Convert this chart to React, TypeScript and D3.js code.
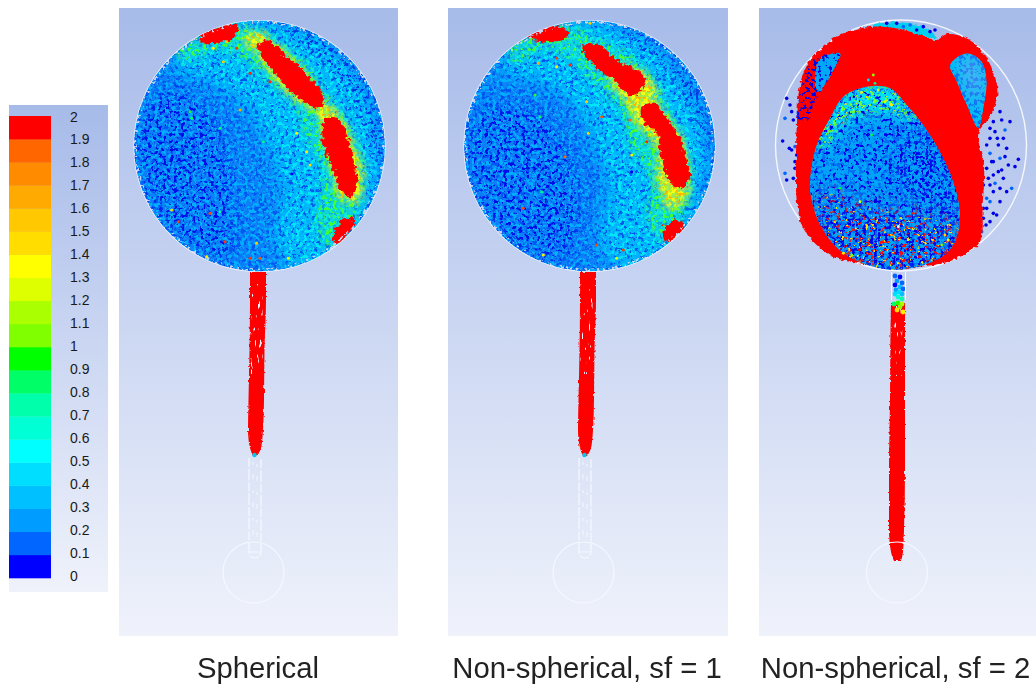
import React from "react";
import * as d3 from "d3";

type P = [number, number];

// legend
const legendColors = ["#0000ff","#0066ff","#009cff","#00c0ff","#00deff","#00ffff","#00ffd5","#00ffaa","#00ff66","#00ff00","#80ff00","#aaff00","#ddff00","#ffff00","#ffdd00","#ffc800","#ffaa00","#ff8c00","#ff6600","#ff0000"];
const legendTicks = ["0","0.1","0.2","0.3","0.4","0.5","0.6","0.7","0.8","0.9","1","1.1","1.2","1.3","1.4","1.5","1.6","1.7","1.8","1.9","2"];
const panelLabels = ["Spherical", "Non-spherical, sf = 1", "Non-spherical, sf = 2"];

// panel 1 regions, in reading units (3 per px of the crop)
const p1Cyan: P[] = [[350,60],[420,50],[500,70],[600,110],[710,230],[770,400],[760,560],[650,740],[520,790],[470,700],[490,560],[440,400],[380,300],[300,240],[160,180],[220,110]];
const p1Deep: P[] = [[45,420],[100,280],[200,260],[300,370],[340,530],[340,680],[330,770],[220,730],[110,620]];
const p1Ring: P[] = [[490,55],[600,90],[720,190],[795,390],[790,470],[750,440],[700,300],[620,190],[520,110]];
const p1Green: P[] = [[170,140],[250,85],[350,60],[400,70],[470,110],[560,180],[620,270],[690,370],[730,490],[720,590],[690,660],[640,730],[590,670],[600,580],[610,500],[560,400],[520,290],[450,230],[370,160],[290,130],[200,170]];
const p1Yellow: P[] = [[370,95],[420,85],[460,120],[540,190],[610,290],[660,340],[700,430],[725,505],[710,585],[665,580],[640,500],[615,400],[590,320],[525,280],[460,210],[410,140]];
const p1Red: P[][] = [
  [[418,125],[445,112],[485,150],[535,190],[580,238],[608,285],[590,302],[548,280],[505,245],[465,198],[428,152]],
  [[622,345],[648,343],[682,408],[694,470],[708,530],[692,568],[662,548],[646,492],[626,452],[612,390]],
  [[243,90],[290,68],[348,62],[342,92],[290,108],[250,108]],
  [[670,648],[698,648],[682,682],[655,708],[645,695]],
];
const p1Stray: [number, number, string][] = [[350,130,"#ff3300"],[310,170,"#ffcc00"],[390,205,"#ff2200"],[450,230,"#ff2200"],[360,315,"#ffaa00"],[215,340,"#00ff66"],[300,370,"#00ff88"],[210,320,"#22ee44"],[530,385,"#ffee00"],[570,480,"#ffdd00"],[515,507,"#0000ff"],[155,615,"#ffdd00"],[270,625,"#ff4400"],[300,620,"#00ffaa"],[260,755,"#ffee00"],[390,760,"#ff3300"],[420,760,"#ff5500"],[410,715,"#ffcc00"],[505,760,"#ddff00"],[315,710,"#ff3300"],[175,650,"#ff4400"],[320,110,"#ffcc00"],[280,130,"#ffee00"],[605,405,"#ff0000"],[560,440,"#ffee00"],[430,410,"#00ff88"]];

// panel 2 regions
const p2Cyan: P[] = [[340,60],[420,50],[500,75],[600,120],[700,240],[760,400],[750,560],[650,740],[520,790],[450,700],[480,560],[430,400],[380,300],[280,230],[150,190],[220,110]];
const p2Deep: P[] = [[45,440],[90,320],[200,300],[320,370],[380,520],[390,660],[340,770],[220,740],[110,630]];
const p2Ring: P[] = [[520,70],[620,100],[740,230],[790,390],[780,440],[740,360],[690,270],[620,170],[540,120]];
const p2Green: P[] = [[170,140],[250,85],[350,65],[420,90],[510,130],[600,210],[670,340],[720,470],[715,590],[690,640],[640,710],[590,630],[610,540],[540,420],[510,310],[440,240],[360,160],[290,130],[200,170]];
const p2Yellow: P[] = [[480,185],[560,195],[610,240],[620,300],[690,400],[712,500],[705,580],[660,610],[625,510],[625,430],[560,350],[530,290],[490,240]];
const p2Red: P[][] = [
  [[403,125],[450,128],[500,172],[572,208],[578,240],[545,268],[498,222],[448,188],[408,147]],
  [[578,315],[610,298],[642,340],[684,400],[698,440],[714,520],[685,548],[652,502],[636,442],[626,382],[590,352]],
  [[243,90],[300,66],[352,85],[310,107],[258,102]],
  [[643,682],[675,648],[698,660],[672,697],[650,703]],
];
const p2Stray: [number, number, string][] = [[320,160,"#ff4400"],[360,180,"#ff2200"],[265,175,"#ffaa00"],[320,185,"#ffee00"],[270,335,"#00ff66"],[255,270,"#33ff33"],[410,290,"#ffcc00"],[455,335,"#ff5500"],[540,345,"#ff6600"],[590,410,"#ff2200"],[545,450,"#ffee00"],[345,455,"#ff6600"],[415,385,"#ffcc00"],[275,560,"#00ff88"],[220,610,"#ff4400"],[280,750,"#ffee00"],[520,735,"#ff3300"],[440,720,"#ff4400"],[500,760,"#ddff00"],[420,55,"#ffcc00"],[545,500,"#0000ff"]];

// panel 3 regions
const p3Outer: P[] = [[112,330],[118,250],[140,180],[190,125],[260,80],[340,65],[420,72],[490,92],[530,105],[560,88],[620,100],[670,145],[705,215],[712,270],[690,335],[655,385],[672,480],[668,600],[660,710],[610,750],[560,772],[480,785],[400,790],[300,775],[230,760],[170,720],[130,670],[112,600],[108,450]];
const p3Dome: P[] = [[170,420],[210,340],[250,275],[320,245],[390,250],[440,300],[490,360],[540,440],[580,530],[600,620],[590,700],[560,745],[500,778],[400,795],[300,772],[230,728],[180,660],[150,560],[155,480]];
const p3LeftPatch: P[] = [[125,240],[155,165],[240,145],[215,210],[165,290],[145,350],[112,350],[115,285]];
const p3LeftCore: P[] = [[185,160],[240,145],[215,205],[175,260],[165,215]];
const p3RightPatch: P[] = [[570,180],[620,145],[665,170],[680,230],[672,300],[655,370],[620,300],[590,230]];
const p3DomeCap: P[] = [[170,420],[250,275],[320,245],[390,250],[440,300],[470,350],[400,320],[320,320],[250,350],[190,430]];
const p3DomeDeep: P[] = [[440,390],[530,420],[585,540],[600,640],[510,620],[440,560],[390,480]];
const p3DomeLow: P[] = [[180,560],[300,610],[480,630],[600,670],[540,790],[400,810],[280,790],[200,720]];
const p3Out: P[] = [[80,280],[90,300],[75,340],[100,345],[95,320],[130,350],[68,408],[105,425],[95,435],[88,430],[110,450],[105,470],[75,505],[80,525],[100,520],[115,500],[105,490],[118,375],[135,355],[720,320],[750,350],[700,350],[735,375],[705,380],[690,400],[730,400],[715,420],[690,445],[740,430],[775,463],[765,485],[745,480],[720,460],[700,470],[680,490],[700,510],[730,520],[755,550],[740,560],[720,550],[700,560],[690,540],[680,580],[720,590],[700,625],[690,650],[670,640],[665,680],[710,630],[680,610],[380,55],[410,55],[450,60],[490,65],[510,80],[525,75],[470,75],[430,65],[680,420],[695,470],[715,500],[735,455],[690,590],[670,610],[712,400],[685,520],[725,495],[705,535],[678,660],[725,345],[690,370],[670,540]];
const p3Stray: [number, number, string][] = [[340,210,"#88ff00"],[325,225,"#00ddff"],[345,235,"#00ff88"],[300,590,"#ddff00"],[335,390,"#00ff44"],[240,550,"#00ff44"],[460,625,"#ff2200"],[565,705,"#ffee00"],[555,690,"#ffdd00"],[545,720,"#88ff00"],[250,745,"#ffee00"],[275,750,"#88ff00"],[415,665,"#ffffff"],[375,290,"#ddff00"],[395,300,"#ffee00"],[305,262,"#ffee00"],[355,255,"#ddff00"]];
const p3TopRim: P[] = [[340,60],[420,52],[490,65],[530,100],[490,92],[420,72],[340,65]];

// rods: [y, left, right] in screen-sized reading of each tube
const rodY = [272, 300, 350, 400, 430, 448, 456];
const rodLeft = [250, 250, 249.5, 248.5, 248, 250, 253];
const rodRight = [266, 266, 264.5, 264, 263, 261, 257];
const rod3Y = [303, 330, 400, 470, 530, 552, 561];
const rod3Left = [891, 890.5, 890, 889, 889, 891, 894];
const rod3Right = [905, 905, 905, 905, 904, 903, 901];
const rod3Top: [number, number, string][] = [[895,276,"#0066ff"],[900,277,"#0000ff"],[897,281,"#009cff"],[902,283,"#0066ff"],[895,285,"#0000ff"],[900,287,"#00c0ff"],[903,289,"#0066ff"],[896,290,"#00a0ff"],[899,292,"#00deff"],[902,294,"#00c0ff"],[895,294,"#00deff"],[898,297,"#00ffd5"],[902,299,"#00ffaa"],[894,304,"#00ff66"],[898,303,"#22ff00"],[902,304,"#aaff00"],[900,307,"#88ff00"],[897,310,"#ffdd00"],[903,312,"#ffee00"]];

const W = 1036, H = 684;
const panels = [
  { x0: 119, x1: 398, ox: 120, cx: 259.5, tube: 254.5, cyan: p1Cyan, deep: p1Deep, ring: p1Ring, green: p1Green, yellow: p1Yellow, red: p1Red, stray: p1Stray },
  { x0: 448, x1: 728, ox: 450, cx: 589.5, tube: 584.5, cyan: p2Cyan, deep: p2Deep, ring: p2Ring, green: p2Green, yellow: p2Yellow, red: p2Red, stray: p2Stray },
];
const yR = d3.scaleLinear([0, 840], [5, 285]);
const lineP = d3.line<P>().curve(d3.curveCatmullRomClosed.alpha(0.5));

function Speck({ id, color, freq, t, seed, blur }: { id: string; color: string; freq: string; t: number; seed: number; blur: number }) {
  const c = d3.rgb(color);
  const k = 14;
  return (
    <filter id={id} x="-10%" y="-10%" width="120%" height="120%" colorInterpolationFilters="sRGB">
      <feTurbulence type="fractalNoise" baseFrequency={freq} numOctaves={2} seed={seed} result="n" />
      <feColorMatrix in="n" type="matrix" values={`0 0 0 0 ${c.r / 255} 0 0 0 0 ${c.g / 255} 0 0 0 0 ${c.b / 255} ${k} 0 0 0 ${-k * t}`} result="c" />
      <feGaussianBlur in="SourceAlpha" stdDeviation={blur} result="a" />
      <feComposite in="c" in2="a" operator="in" />
    </filter>
  );
}

function Rough({ id, scale, blur, seed, freq = "0.16" }: { id: string; scale: number; blur: number; seed: number; freq?: string }) {
  return (
    <filter id={id} x="-15%" y="-15%" width="130%" height="130%" colorInterpolationFilters="sRGB">
      <feTurbulence type="fractalNoise" baseFrequency={freq} numOctaves={2} seed={seed} result="n" />
      <feGaussianBlur in="SourceGraphic" stdDeviation={blur} result="b" />
      <feDisplacementMap in="b" in2="n" scale={scale} xChannelSelector="R" yChannelSelector="G" />
    </filter>
  );
}

export default function App() {
  const legendBand = d3.scaleLinear([0, 20], [578, 116]);
  const legendLab = d3.scaleLinear([0, 20], [576, 116.5]);

  const rodArea = (ys: number[], l: number[], r: number[], dx: number) =>
    d3.area<number>().x0((_, i) => l[i] + dx).x1((_, i) => r[i] + dx).y((d) => d).curve(d3.curveMonotoneY)(ys) || "";

  const discLayers = (p: (typeof panels)[number], i: number) => {
    const x = d3.scaleLinear([0, 840], [p.ox, p.ox + 280]);
    const path = (pts: P[]) => lineP(pts.map(([a, b]) => [x(a), yR(b)] as P)) || "";
    const discBox = `M${p.cx - 125.5},146a125.5,125.5 0 1,0 251,0a125.5,125.5 0 1,0 -251,0Z`;
    return (
      <g key={i}>
        <circle cx={p.cx} cy={146} r={125.5} fill="none" stroke="#fff" strokeOpacity={0.8} strokeWidth={1.2} />
        <g clipPath={`url(#clip${i})`}>
          <g filter="url(#soft)">
            <path d={discBox} fill="#0a80f8" />
            <path d={path(p.cyan)} fill="#00bcfa" filter="url(#bl8)" />
            <path d={discBox} filter={`url(#spBlueA${i})`} />
            <path d={discBox} filter={`url(#spCyanA${i})`} />
            <path d={path(p.deep)} filter={`url(#spDeep${i})`} />
            <path d={path(p.ring)} filter={`url(#spRing${i})`} />
            <path d={path(p.cyan)} filter={`url(#spCyanB${i})`} />
            <path d={path(p.green)} fill="#18eec0" filter="url(#r10)" opacity={0.5} />
            <path d={path(p.green)} filter={`url(#spGreen${i})`} />
            <path d={path(p.yellow)} fill="#d8f020" filter="url(#r10)" opacity={0.75} />
            <path d={path(p.yellow)} filter={`url(#spYellow${i})`} />
            <path d={path(p.yellow)} filter={`url(#spOrange${i})`} />
            {p.red.map((r, j) => (
              <path key={j} d={path(r)} fill="#ff0000" stroke="#ff0000" strokeWidth={3.5} filter="url(#r6)" />
            ))}
            {p.stray.map(([a, b, c], j) => (
              <circle key={j} cx={x(a)} cy={yR(b)} r={1.5} fill={c} />
            ))}
            <path d={discBox} fill="none" stroke="#000" strokeWidth={6} filter={`url(#spEdge${i})`} />
          </g>
        </g>
      </g>
    );
  };

  const x3 = d3.scaleLinear([0, 828], [760, 1036]);
  const y3 = d3.scaleLinear([0, 900], [5, 305]);
  const path3 = (pts: P[]) => lineP(pts.map(([a, b]) => [x3(a), y3(b)] as P)) || "";

  const seeds = [3, 11];
  return (
    <svg width={W} height={H} viewBox={`0 0 ${W} ${H}`} style={{ position: "absolute", left: 0, top: 0, background: "#fff" }}>
      <defs>
        <linearGradient id="bgP" x1="0" y1="0" x2="0" y2="1">
          <stop offset="0" stopColor="#a7bbe9" />
          <stop offset="1" stopColor="#eff2fb" />
        </linearGradient>
        <filter id="soft" x="-5%" y="-5%" width="110%" height="110%"><feGaussianBlur stdDeviation="0.7" /></filter>
        <filter id="bl8" x="-15%" y="-15%" width="130%" height="130%"><feGaussianBlur stdDeviation="8" /></filter>
        <Rough id="r6" scale={9} blur={0.6} seed={5} freq="0.22" />
        <Rough id="r10" scale={14} blur={4} seed={8} />
        <Rough id="r3" scale={4} blur={0.3} seed={2} freq="0.25" />
        <Rough id="r1" scale={3} blur={0.3} seed={4} freq="0.35" />
        {panels.map((p, i) => (
          <clipPath key={i} id={`clip${i}`}><circle cx={p.cx} cy={146} r={125.5} /></clipPath>
        ))}
        {seeds.map((s, i) => (
          <React.Fragment key={i}>
            <Speck id={`spBlueA${i}`} color="#0058f0" freq="0.27" t={0.53} seed={s} blur={0.1} />
            <Speck id={`spCyanA${i}`} color="#00b0ff" freq="0.29" t={0.53} seed={s + 20} blur={0.1} />
            <Speck id={`spDeep${i}`} color="#0008e8" freq="0.27" t={0.57} seed={s + 40} blur={8} />
            <Speck id={`spRing${i}`} color="#0030e0" freq="0.27" t={0.58} seed={s + 50} blur={4} />
            <Speck id={`spCyanB${i}`} color="#00e8f8" freq="0.27" t={0.55} seed={s + 60} blur={6} />
            <Speck id={`spGreen${i}`} color="#40ff30" freq="0.27" t={0.56} seed={s + 70} blur={3} />
            <Speck id={`spYellow${i}`} color="#f4ff10" freq="0.25" t={0.5} seed={s + 80} blur={3} />
            <Speck id={`spOrange${i}`} color="#ffb000" freq="0.29" t={0.6} seed={s + 85} blur={3} />
            <Speck id={`spEdge${i}`} color="#c4d2f2" freq="0.33" t={0.55} seed={s + 90} blur={0.2} />
          </React.Fragment>
        ))}
        <Speck id="rodWhite" color="#eef2ff" freq="0.45 0.1" t={0.66} seed={9} blur={0.1} />
        <Speck id="dBlue" color="#0070f4" freq="0.27" t={0.52} seed={31} blur={0.1} />
        <Speck id="dDeep" color="#0000e8" freq="0.27" t={0.6} seed={32} blur={0.1} />
        <Speck id="dDeepB" color="#0000e8" freq="0.27" t={0.54} seed={33} blur={12} />
        <Speck id="dCyan" color="#00f0f0" freq="0.27" t={0.52} seed={34} blur={8} />
        <Speck id="dGreen" color="#70ff20" freq="0.27" t={0.58} seed={35} blur={3} />
        <Speck id="dRed" color="#ff1000" freq="0.27" t={0.6} seed={36} blur={12} />
        <Speck id="dYellow" color="#ffe000" freq="0.29" t={0.66} seed={37} blur={4} />
        <Speck id="dLeftDeep" color="#0000e8" freq="0.29" t={0.54} seed={38} blur={1} />
        <clipPath id="domeClip"><path d={path3(p3Dome)} /></clipPath>
        <clipPath id="patchL"><path d={path3(p3LeftPatch)} /></clipPath>
        <clipPath id="patchR"><path d={path3(p3RightPatch)} /></clipPath>
      </defs>

      {/* legend */}
      <rect x={9} y={105} width={99} height={487} fill="url(#bgP)" />
      {legendColors.map((c, i) => (
        <rect key={i} x={9} y={legendBand(i + 1)} width={42} height={legendBand(i) - legendBand(i + 1) + 0.3} fill={c} />
      ))}
      {legendTicks.map((t, i) => (
        <text key={t} x={70} y={legendLab(i) + 5} fontSize={14} fontFamily="Liberation Sans, Arial, sans-serif" fill="#1a1a1a">{t}</text>
      ))}

      {/* panel backgrounds */}
      {[...panels.map((p) => [p.x0, p.x1]), [759, 1036]].map(([a, b], i) => (
        <rect key={i} x={a} y={8} width={b - a} height={628} fill="url(#bgP)" />
      ))}

      {/* panels 1 and 2 */}
      {panels.map(discLayers)}
      {panels.map((p, i) => {
        const dx = p.tube - 254.5;
        return (
          <g key={`t${i}`}>
            <path d={rodArea(rodY, rodLeft, rodRight, dx)} fill="#ff0000" filter="url(#r1)" />
            <rect x={p.tube - 4} y={284} width={12} height={90} filter="url(#rodWhite)" />
            <circle cx={p.tube} cy={455} r={2.2} fill="#00c8f0" />
            <path d={`M${p.tube - 5.5},458V552a6,6 0 0,0 12,0V458`} fill="none" stroke="#f6f8ff" strokeWidth={1.2} strokeDasharray="9 1.5 12 2" />
            <path d={`M${p.tube - 1.5},462V545M${p.tube + 2.5},464V540`} fill="none" stroke="#f6f8ff" strokeWidth={0.9} strokeDasharray="3 9 5 11" />
            <path d={`M${p.tube - 5.5},552h12`} fill="none" stroke="#f6f8ff" strokeWidth={1} />
            <circle cx={p.tube - 1} cy={572.5} r={30.5} fill="none" stroke="#f6f8ff" strokeWidth={1.1} />
          </g>
        );
      })}

      {/* panel 3 */}
      <circle cx={901} cy={145.5} r={125.5} fill="none" stroke="#fff" strokeOpacity={0.85} strokeWidth={1.4} />
      <g filter="url(#soft)">
        <path d={path3(p3TopRim)} fill="#00d0f0" filter="url(#r3)" />
        {p3Out.map(([a, b], j) => (
          <circle key={j} cx={x3(a)} cy={y3(b)} r={1.8} fill={j % 5 === 2 ? "#0066ff" : "#0000e8"} />
        ))}
        <path d={path3(p3Outer)} fill="#ff0000" filter="url(#r3)" />
        {/* left patch */}
        <g clipPath="url(#patchL)">
          <path d={path3(p3LeftPatch)} filter="url(#dLeftDeep)" />
          <path d={path3(p3LeftCore)} fill="#00a8f8" filter="url(#r3)" />
          <path d={path3(p3LeftCore)} filter="url(#dDeep)" />
        </g>
        {/* right patch */}
        <g clipPath="url(#patchR)">
          <path d={path3(p3RightPatch)} fill="#00bcf4" />
          <path d={path3(p3RightPatch)} filter="url(#dBlue)" />
          <path d={path3([[600,160],[650,160],[670,240],[650,300],[620,250]])} fill="#88b0f0" opacity={0.5} filter="url(#bl8)" />
        </g>
        {/* central dome */}
        <g clipPath="url(#domeClip)">
          <path d={path3(p3Dome)} fill="#00a4f8" />
          <path d={path3(p3DomeCap)} fill="#00e4f4" filter="url(#bl8)" />
          <path d={path3(p3Dome)} filter="url(#dBlue)" />
          <path d={path3(p3Dome)} filter="url(#dDeep)" />
          <path d={path3(p3DomeCap)} filter="url(#dCyan)" />
          <path d={path3(p3DomeDeep)} filter="url(#dDeepB)" />
          <path d={path3(p3DomeCap)} filter="url(#dGreen)" />
          <path d={path3(p3DomeCap)} filter="url(#dYellow)" />
          <path d={path3(p3DomeLow)} filter="url(#dDeepB)" />
          <path d={path3(p3DomeLow)} filter="url(#dRed)" />
          <path d={path3(p3DomeLow)} filter="url(#dYellow)" />
        </g>
        {p3Stray.map(([a, b, c], j) => (
          <circle key={j} cx={x3(a)} cy={y3(b)} r={1.4} fill={c} />
        ))}
        {/* stem */}
        <path d={rodArea(rod3Y, rod3Left, rod3Right, 0)} fill="#ff0000" filter="url(#r1)" />
        <rect x={893} y={306} width={10} height={70} filter="url(#rodWhite)" />
        {rod3Top.map(([a, b, c], j) => (
          <circle key={j} cx={a} cy={b} r={2.4} fill={c} />
        ))}
      </g>
      <path d="M891.5,272V300M905.5,272V300" stroke="#f6f8ff" strokeWidth={1} fill="none" />
      <circle cx={897} cy={572.5} r={30.5} fill="none" stroke="#f6f8ff" strokeWidth={1.1} />

      {/* labels */}
      {panelLabels.map((t, i) => (
        <text key={t} x={[258, 587, 895.5][i]} y={678} textAnchor="middle" fontSize={29.3} fontFamily="Liberation Sans, Arial, sans-serif" fill="#222">{t}</text>
      ))}
    </svg>
  );
}
